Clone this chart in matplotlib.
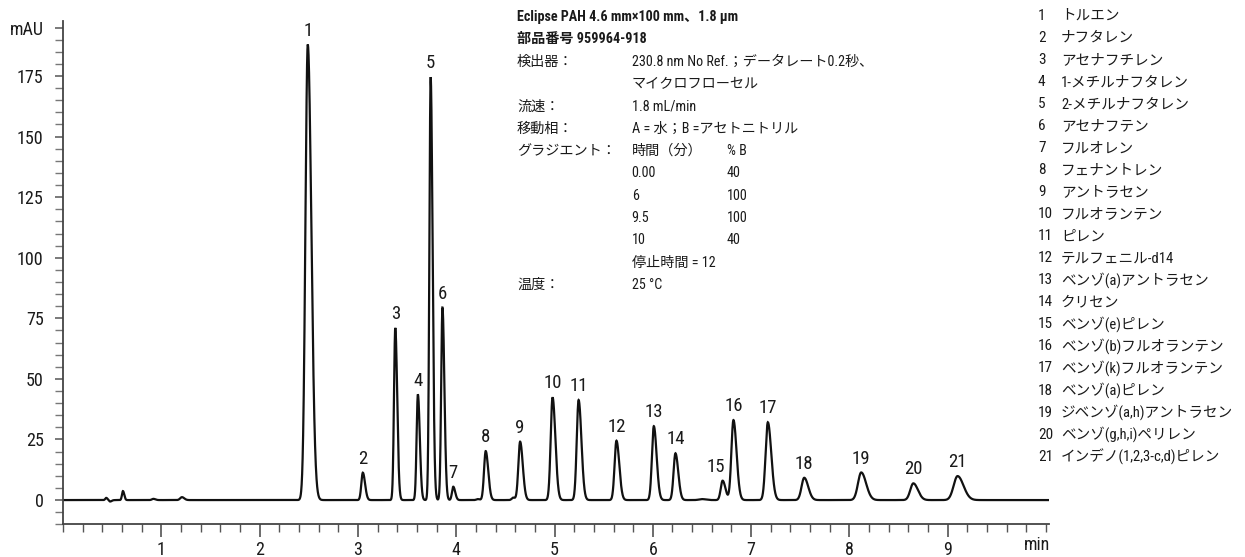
import numpy as np
import matplotlib
matplotlib.use("Agg")
import matplotlib.pyplot as plt
import matplotlib.font_manager as fm
from matplotlib.ticker import MultipleLocator

# Pick a narrow latin face if one is installed, kana/kanji from Noto CJK
entries = fm.fontManager.ttflist
LATIN, STRETCH = "Liberation Sans", "normal"
for cand in ["Liberation Sans Narrow", "Roboto Condensed", "Open Sans Condensed",
             "Noto Sans Condensed", "DejaVu Sans Condensed"]:
    if any(f.name == cand for f in entries):
        LATIN = cand
        break
else:
    cond = [f.name for f in entries if str(f.stretch) in ("condensed", "semi-condensed", "75", "87.5")]
    for cand in ["Noto Sans", "Roboto", "Open Sans", "DejaVu Sans", "Liberation Sans"]:
        if cand in cond:
            LATIN, STRETCH = cand, "condensed"
            break
FAM = [LATIN, "Noto Sans CJK JP", "DejaVu Sans"]
plt.rcParams["font.family"] = FAM
plt.rcParams["font.stretch"] = STRETCH

# Peak table: retention time (min), height (mAU), width (sigma, min)
peak_no = list(range(1, 22))
rt = [2.49, 3.05, 3.38, 3.61, 3.74, 3.86, 3.97, 4.30, 4.65, 4.98, 5.245,
      5.63, 6.01, 6.23, 6.71, 6.82, 7.17, 7.54, 8.12, 8.65, 9.10]
height = [188.0, 11.3, 71.1, 43.6, 174.6, 79.5, 5.5, 20.2, 24.1, 42.4, 41.3,
          24.5, 30.5, 19.3, 8.0, 33.0, 32.1, 9.2, 11.4, 6.9, 9.9]
sigma = [0.024, 0.015, 0.013, 0.013, 0.013, 0.013, 0.013, 0.017, 0.018, 0.019, 0.019,
         0.019, 0.019, 0.019, 0.019, 0.021, 0.023, 0.027, 0.033, 0.031, 0.040]

# Small unlabelled disturbances on the baseline
minor_rt = [0.44, 0.48, 0.61, 0.92, 1.21, 4.22, 4.58, 6.50]
minor_h = [0.9, -0.6, 3.7, 0.5, 1.2, 0.4, 1.0, 0.4]
minor_sigma = [0.010, 0.012, 0.010, 0.015, 0.018, 0.015, 0.015, 0.03]

compounds = ["トルエン", "ナフタレン", "アセナフチレン", "1-メチルナフタレン",
             "2-メチルナフタレン", "アセナフテン", "フルオレン", "フェナントレン",
             "アントラセン", "フルオランテン", "ピレン", "テルフェニル-d14",
             "ベンゾ(a)アントラセン", "クリセン", "ベンゾ(e)ピレン",
             "ベンゾ(b)フルオランテン", "ベンゾ(k)フルオランテン", "ベンゾ(a)ピレン",
             "ジベンゾ(a,h)アントラセン", "ベンゾ(g,h,i)ペリレン",
             "インデノ(1,2,3-c,d)ピレン"]

method_rows = [
    ("Eclipse PAH 4.6 mm×100 mm、1.8 µm", "", "", True),
    ("部品番号 959964-918", "", "", True),
    ("検出器：", "230.8 nm No Ref.；データレート0.2秒、", "", False),
    ("", "マイクロフローセル", "", False),
    ("流速：", "1.8 mL/min", "", False),
    ("移動相：", "A = 水；B =アセトニトリル", "", False),
    ("グラジエント：", "時間（分）", "% B", False),
    ("", "0.00", "40", False),
    ("", "6", "100", False),
    ("", "9.5", "100", False),
    ("", "10", "40", False),
    ("", "停止時間 = 12", "", False),
    ("温度：", "25 °C", "", False),
]

TAIL = 1.5  # right-hand sigma factor (peak tailing)


def peak(t, t0, h, s, tail):
    left = h * np.exp(-0.5 * ((t - t0) / s) ** 2)
    right = h * np.exp(-0.5 * ((t - t0) / (s * tail)) ** 2)
    return np.where(t < t0, left, right)


t = np.linspace(0, 10.03, 8000)
signal = np.zeros_like(t)
for t0, h, s in zip(rt, height, sigma):
    signal += peak(t, t0, h, s, TAIL)
for t0, h, s in zip(minor_rt, minor_h, minor_sigma):
    signal += peak(t, t0, h, s, 1.3)

W, H = 1245, 557
fig = plt.figure(figsize=(W / 100, H / 100), dpi=100)
ax = fig.add_axes([63 / W, 1 - 524.3 / H, (1049 - 63) / W, (524.3 - 21) / H])

ax.plot(t, signal, color="#111111", lw=1.6, solid_joinstyle="miter")
ax.set_xlim(0, 10.03)
ax.set_ylim(-10, 197.7)

for sp in ("top", "right"):
    ax.spines[sp].set_visible(False)
for sp in ("left", "bottom"):
    ax.spines[sp].set_color("#444444")
    ax.spines[sp].set_linewidth(1.3)

ax.set_xticks(range(1, 10))
ax.xaxis.set_minor_locator(MultipleLocator(0.2))
ax.set_yticks([0, 25, 50, 75, 100, 125, 150, 175, 195])
ax.set_yticklabels(["0", "25", "50", "75", "100", "125", "150", "175", "mAU"])
ax.yaxis.set_minor_locator(MultipleLocator(5))
ax.tick_params(axis="x", which="major", length=9, width=1.1, color="#444444",
               labelsize=13, pad=3, labelcolor="#1a1a1a")
ax.tick_params(axis="x", which="minor", length=6, width=1.0, color="#555555")
ax.tick_params(axis="y", which="major", length=6, width=1.1, color="#555555",
               labelsize=13, pad=8, labelcolor="#1a1a1a")
ax.tick_params(axis="y", which="minor", length=6, width=1.0, color="#777777")
ax.text(10.04, -18.6, "min", ha="right", va="center", fontsize=13,
        color="#1a1a1a", clip_on=False)

# Peak numbers above each peak
nudge = {15: -5}
for n, t0, h in zip(peak_no, rt, height):
    ax.annotate(str(n), (t0, h), xytext=(nudge.get(n, 0), 3.5),
                textcoords="offset points", ha="center", va="bottom",
                fontsize=13.5, color="#1a1a1a")

# Method conditions block
y0, dy = 17, 22.33
for i, (lab, val, pb, bold) in enumerate(method_rows):
    y = 1 - (y0 + i * dy) / H
    wt = "bold" if bold else "normal"
    if lab:
        fig.text(517 / W, y, lab, fontsize=10.2, fontweight=wt, va="center",
                 ha="left", family=FAM, color="#1a1a1a")
    if val:
        fig.text(631.7 / W, y, val, fontsize=10.2, va="center", ha="left",
                 family=FAM, color="#1a1a1a")
    if pb:
        fig.text(726.7 / W, y, pb, fontsize=10.2, va="center", ha="left",
                 family=FAM, color="#1a1a1a")

# Compound list
for i, (n, name) in enumerate(zip(peak_no, compounds)):
    y = 1 - (16 + i * 22.03) / H
    fig.text(1038 / W, y, str(n), fontsize=11, va="center", ha="left",
             family=FAM, color="#1a1a1a")
    fig.text(1061 / W, y, name, fontsize=10.5, va="center", ha="left",
             family=FAM, color="#1a1a1a")

fig.savefig("out.png", dpi=100)
